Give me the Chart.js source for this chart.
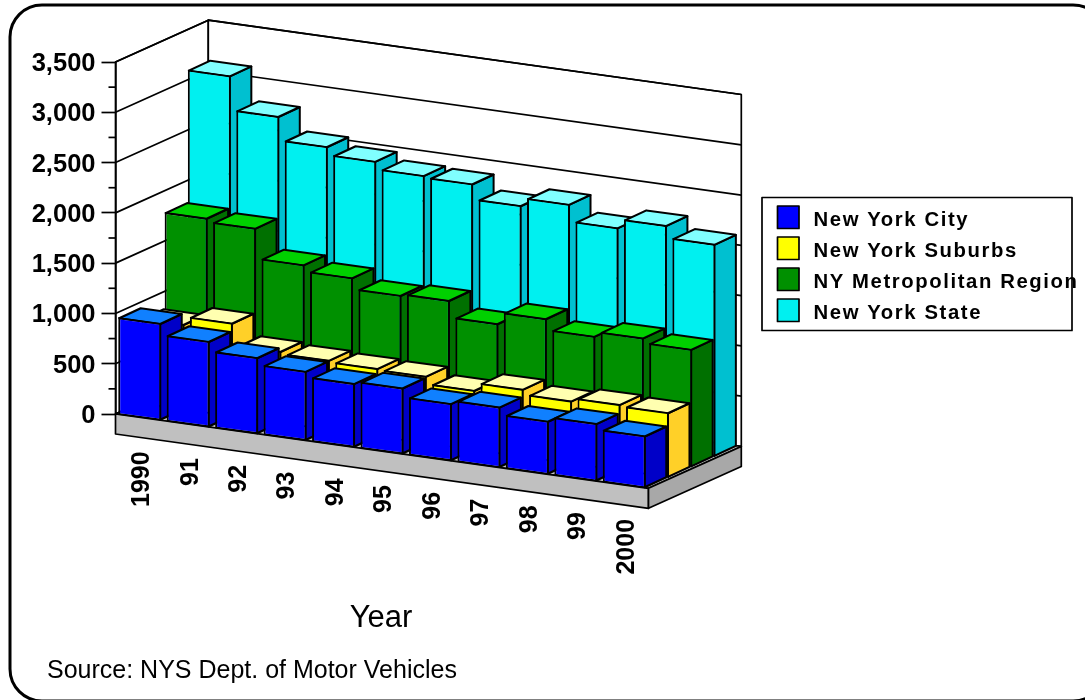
<!DOCTYPE html>
<html>
<head>
<meta charset="utf-8">
<style>html,body{margin:0;padding:0;background:#fff;overflow:hidden}#wrap{position:relative;width:1085px;height:700px}</style>
<script src="https://cdn.jsdelivr.net/npm/chart.js@4/dist/chart.umd.min.js"></script>
</head>
<body>
<div id="wrap"><canvas id="c" width="1085" height="700"></canvas></div>
<script>
const years = ['1990','91','92','93','94','95','96','97','98','99','2000'];
const nyCity    = [977,865,771,702,648,671,583,616,542,586,530];
const nySuburbs = [863,943,729,708,693,683,610,688,639,671,657];
const nyMetro   = [1815,1782,1486,1424,1316,1333,1169,1286,1178,1228,1183];
const nyState   = [3127,2790,2557,2478,2404,2388,2239,2319,2153,2243,2124];
const seriesNames = ['New York City','New York Suburbs','NY Metropolitan Region','New York State'];
const frontColors = ['#0000ff','#ffff00','#009000','#00f0f0'];
const topColors   = ['#1080ff','#ffffb0','#00d000','#80ffff'];
const sideColors  = ['#0000c8','#ffd028','#007000','#00c0d0'];
const yTicks = [0,500,1000,1500,2000,2500,3000,3500];
const xTitle = 'Year';
const sourceNote = 'Source: NYS Dept. of Motor Vehicles';

const SLOPE = 0.1394;           // fall of the front edge per px
const ROW = {x:23.2, y:-10.45}; // offset from one depth row to the next
const BAR = {x:21.5, y:-10};    // extrusion of one bar
const WALL = {x:92.8, y:-41.8}; // full floor depth
const SLAB = 20;                // floor thickness
const BOLD = 'bold 25px "Liberation Sans", Arial, sans-serif';
const LINE = 2;
const THIN = 1.7;

function poly(ctx, pts, fill) {
  ctx.beginPath();
  pts.forEach((p,i)=> i ? ctx.lineTo(p[0],p[1]) : ctx.moveTo(p[0],p[1]));
  ctx.closePath();
  if (fill) { ctx.fillStyle = fill; ctx.fill(); }
  ctx.stroke();
}

const scene = {
  id:'scene',
  beforeDraw(chart) {
    const {ctx, chartArea:a, scales:{x,y}} = chart;
    const L = a.left, R = a.right, B = y.getPixelForValue(0);
    const drop = (R-L)*SLOPE;
    ctx.save();
    ctx.strokeStyle = '#000'; ctx.lineJoin = 'round';
    // outer frame
    ctx.lineWidth = 3;
    ctx.beginPath(); ctx.roundRect(10,5,1095,696,32); ctx.stroke();
    ctx.lineWidth = THIN;
    // walls
    const topY = y.getPixelForValue(yTicks[yTicks.length-1]);
    poly(ctx,[[L,topY],[L+WALL.x,topY+WALL.y],[L+WALL.x,B+WALL.y],[L,B]],'#fff');
    poly(ctx,[[L+WALL.x,topY+WALL.y],[R+WALL.x,topY+WALL.y+drop],[R+WALL.x,B+WALL.y+drop],[L+WALL.x,B+WALL.y]],'#fff');
    yTicks.forEach(v=>{
      const p = y.getPixelForValue(v);
      ctx.beginPath();
      ctx.moveTo(L,p); ctx.lineTo(L+WALL.x,p+WALL.y); ctx.lineTo(R+WALL.x,p+WALL.y+drop);
      ctx.stroke();
    });
    // floor slab
    poly(ctx,[[L,B],[R,B+drop],[R+WALL.x,B+drop+WALL.y],[L+WALL.x,B+WALL.y]],'#c0c0c0');
    poly(ctx,[[L,B],[R,B+drop],[R,B+drop+SLAB],[L,B+SLAB]],'#c0c0c0');
    poly(ctx,[[R,B+drop],[R+WALL.x,B+drop+WALL.y],[R+WALL.x,B+drop+WALL.y+SLAB],[R,B+drop+SLAB]],'#a8a8a8');
    // minor ticks
    for (let i=0;i<yTicks.length-1;i++){
      const p = y.getPixelForValue((yTicks[i]+yTicks[i+1])/2);
      ctx.beginPath(); ctx.moveTo(L-7,p); ctx.lineTo(L,p); ctx.stroke();
    }
    // legend
    ctx.lineWidth = THIN;
    ctx.fillStyle='#fff';
    ctx.beginPath(); ctx.rect(762,197.5,310,133); ctx.fill(); ctx.stroke();
    ctx.font = 'bold 20.3px "Liberation Sans", Arial, sans-serif';
    ctx.letterSpacing = '1.6px';
    ctx.textAlign='left'; ctx.textBaseline='alphabetic';
    chart.data.datasets.forEach((d,i)=>{
      const top = 206 + i*31;
      ctx.fillStyle = d.backgroundColor; ctx.strokeStyle='#000';
      ctx.beginPath(); ctx.rect(777.5,top,21.5,22.5); ctx.fill(); ctx.stroke();
      ctx.fillStyle='#000';
      ctx.fillText(d.label,813.5,top+20);
    });
    ctx.letterSpacing = '0px';
    // category labels, along the sloped front edge
    ctx.font = BOLD; ctx.fillStyle='#000';
    ctx.textAlign='right'; ctx.textBaseline='middle';
    years.forEach((t,i)=>{
      const px = x.getPixelForTick(i);
      ctx.save();
      ctx.translate(px, B + (px-L)*SLOPE + SLAB + 14);
      ctx.rotate(-Math.PI/2);
      ctx.fillText(t,0,2.5);
      ctx.restore();
    });
    // titles
    ctx.textAlign='center'; ctx.textBaseline='alphabetic';
    ctx.font='31px "Liberation Sans", Arial, sans-serif';
    ctx.fillText(xTitle,381,627);
    ctx.textAlign='left';
    ctx.font='25px "Liberation Sans", Arial, sans-serif';
    ctx.fillText(sourceNote,47,678);
    ctx.restore();
  },
  beforeDatasetDraw(chart,args) {
    const {ctx, chartArea:a} = chart;
    const row = args.index, meta = args.meta;
    ctx.save();
    ctx.translate(ROW.x*row, ROW.y*row + LINE/2);
    ctx.transform(1,SLOPE,0,1,0,-SLOPE*a.left);
    const dx = BAR.x, dy = BAR.y - SLOPE*BAR.x;
    ctx.strokeStyle='#000'; ctx.lineWidth=LINE; ctx.lineJoin='round';
    meta.data.forEach(el=>{
      const {x,y,base,width} = el.getProps(['x','y','base','width'],true);
      const l = x-width/2, r = x+width/2;
      const li = l+LINE/2, ri = r-LINE/2, ti = y+LINE/2, bi = base-LINE/2;
      poly(ctx,[[ri,ti],[ri+dx,ti+dy],[ri+dx,bi+dy],[ri,bi]],sideColors[row]);
      poly(ctx,[[li,ti],[ri,ti],[ri+dx,ti+dy],[li+dx,ti+dy]],topColors[row]);
      el.draw(ctx);
    });
    ctx.restore();
    return false;
  }
};

new Chart(document.getElementById('c'),{
  type:'bar',
  data:{
    labels:years,
    datasets:[nyCity,nySuburbs,nyMetro,nyState].map((vals,i)=>({
      label:seriesNames[i],
      data:vals,
      backgroundColor:frontColors[i],
      borderColor:'#000',
      borderWidth:LINE,
      borderSkipped:false,
      grouped:false,
      categoryPercentage:1,
      barPercentage:0.8875
    }))
  },
  plugins:[scene],
  options:{
    responsive:false,
    animation:false,
    layout:{padding:{left:0,top:62,right:436.5,bottom:286}},
    plugins:{legend:{display:false},tooltip:{enabled:false},title:{display:false}},
    scales:{
      x:{display:false,type:'category',offset:true},
      y:{
        position:'left',min:0,max:3500,
        afterFit(s){s.width=115.5;},
        ticks:{stepSize:500,color:'#000',padding:6,labelOffset:2,font:{family:'"Liberation Sans", Arial, sans-serif',size:25.5,weight:'bold'},
          callback:v=>v.toLocaleString('en-US')},
        grid:{drawOnChartArea:false,color:'#000',tickLength:14,tickWidth:THIN},
        border:{display:true,color:'#000',width:THIN}
      }
    }
  }
});
</script>
</body>
</html>
